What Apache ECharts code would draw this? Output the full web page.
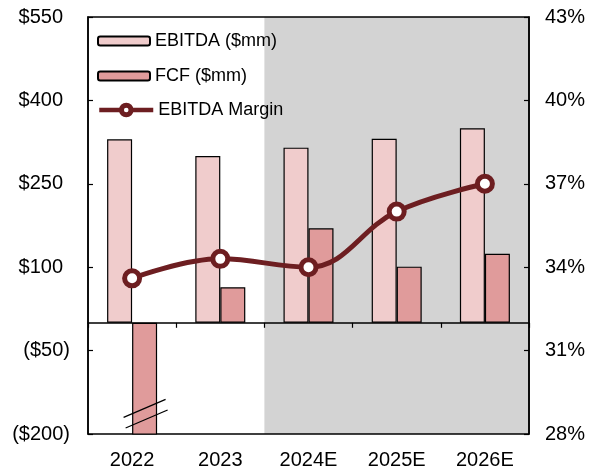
<!DOCTYPE html>
<html>
<head>
<meta charset="utf-8">
<script src="https://cdn.jsdelivr.net/npm/echarts@6/dist/echarts.min.js"></script>
<style>
  html, body { margin: 0; padding: 0; background: #fff; }
  #chart { width: 592px; height: 470px; }
</style>
</head>
<body>
<div id="chart"></div>
<script>
// Fiscal years; the last three are estimates
const categories = ['2022', '2023', '2024E', '2025E', '2026E'];
const ebitda = [330, 300, 315, 331, 350];          // $mm
const fcf = [-240, 64, 170, 101, 124];              // $mm, 2022 runs past the axis floor
const ebitdaMargin = [33.6, 34.3, 34.0, 36.0, 37.0]; // %
const estimateYears = ['2024E', '2025E', '2026E'];   // shaded forecast window
const fcfBreakCategory = '2022';
const fcfBreakLevels = [-154, -173];                  // where the axis-break slashes sit

const leftTicks = { min: -200, max: 550, step: 150 };
const rightTicks = { min: 28, max: 43, step: 3 };

const FONT = '"Liberation Sans", Arial, sans-serif';
const MAROON = '#6d1e21';
const BAR_W = 25;

// accounting style: negatives in parentheses, positives padded to line up
function dollars(v) {
  return v < 0 ? '{n|($' + Math.abs(v) + ')}' : '{p|$' + v + '}';
}

const chart = echarts.init(document.getElementById('chart'), null, { renderer: 'canvas' });

const axisFont = { fontSize: 20, color: '#000', fontFamily: FONT };

const option = {
  animation: false,
  textStyle: { fontFamily: FONT },
  grid: {
    left: 88, right: 63, top: 17, bottom: 36,
    show: true, borderColor: '#000', borderWidth: 1.5,
    backgroundColor: 'transparent'
  },
  legend: [
    {
      orient: 'vertical',
      left: 97, top: 32, padding: 0,
      itemWidth: 52, itemHeight: 9, itemGap: 17,
      textStyle: { fontSize: 18, color: '#000', fontFamily: FONT },
      data: ['EBITDA ($mm)', 'FCF ($mm)']
    },
    {
      left: 97, top: 101, padding: 0,
      itemWidth: 54, itemHeight: 12,
      textStyle: { fontSize: 18, color: '#000', fontFamily: FONT },
      lineStyle: { width: 4.5 },
      itemStyle: { borderWidth: 5 },
      data: ['EBITDA Margin']
    }
  ],
  xAxis: [
    {
      type: 'category', data: categories, z: 5,
      axisLine: { onZero: true, onZeroAxisIndex: 0, lineStyle: { color: '#000', width: 1.5 } },
      axisTick: { show: true, length: 5, lineStyle: { color: '#000', width: 1.2 } },
      axisLabel: { show: false },
      splitLine: { show: false }
    },
    {
      type: 'category', data: categories, position: 'bottom',
      axisLine: { show: false, onZero: false },
      axisTick: { show: false },
      axisLabel: Object.assign({ margin: 16 }, axisFont),
      splitLine: { show: false }
    }
  ],
  yAxis: [
    {
      type: 'value', min: leftTicks.min, max: leftTicks.max, interval: leftTicks.step,
      axisLine: { show: true, lineStyle: { color: '#000', width: 1.5 } },
      axisTick: { show: true, inside: true, length: 5, lineStyle: { color: '#000', width: 1.2 } },
      splitLine: { show: false },
      axisLabel: Object.assign({
        formatter: dollars, margin: 18,
        rich: {
          p: Object.assign({ padding: [0, 7, 0, 0] }, axisFont),
          n: Object.assign({}, axisFont)
        }
      }, axisFont)
    },
    {
      type: 'value', position: 'right',
      min: rightTicks.min, max: rightTicks.max, interval: rightTicks.step,
      axisLine: { show: true, lineStyle: { color: '#000', width: 1.5 } },
      axisTick: { show: true, inside: true, length: 5, lineStyle: { color: '#000', width: 1.2 } },
      splitLine: { show: false },
      axisLabel: Object.assign({ formatter: '{value}%', margin: 16 }, axisFont)
    }
  ],
  series: [
    {
      // gray band behind the estimate years
      type: 'custom', name: 'estimates', z: -1, silent: true,
      xAxisIndex: 0, yAxisIndex: 0,
      data: estimateYears.map(c => [c]),
      encode: { x: 0 },
      renderItem: function (params, api) {
        const idx = api.value(0);
        const top = api.coord([idx, leftTicks.max]);
        const bottom = api.coord([idx, leftTicks.min]);
        const w = api.size([1, 0])[0];
        return {
          type: 'rect',
          shape: { x: top[0] - w / 2, y: top[1], width: w + 0.5, height: bottom[1] - top[1] },
          style: { fill: '#d3d3d3' }
        };
      }
    },
    {
      name: 'EBITDA ($mm)', type: 'bar', data: ebitda,
      xAxisIndex: 0, yAxisIndex: 0,
      barWidth: BAR_W, barGap: '0%', z: 2,
      itemStyle: { color: '#f0cccc', borderColor: '#000', borderWidth: 1.2 }
    },
    {
      name: 'FCF ($mm)', type: 'bar', data: fcf,
      xAxisIndex: 0, yAxisIndex: 0,
      barWidth: BAR_W, barGap: '0%', z: 2, clip: true,
      itemStyle: { color: '#e09b9b', borderColor: '#000', borderWidth: 1.2 }
    },
    {
      // axis-break slashes across the clipped 2022 FCF bar
      type: 'custom', name: 'break', z: 3, silent: true,
      xAxisIndex: 0, yAxisIndex: 0,
      data: fcfBreakLevels.map(v => [fcfBreakCategory, v]),
      encode: { x: 0, y: 1 },
      renderItem: function (params, api) {
        const p = api.coord([api.value(0), api.value(1)]);
        const cx = p[0] + BAR_W / 2 + params.dataIndex * 2;
        return {
          type: 'line',
          shape: { x1: cx - 21, y1: p[1] + 9, x2: cx + 21, y2: p[1] - 9 },
          style: { stroke: '#000', lineWidth: 1.3 }
        };
      }
    },
    {
      name: 'EBITDA Margin', type: 'line', data: ebitdaMargin,
      xAxisIndex: 0, yAxisIndex: 1, z: 4,
      smooth: 0.4,
      symbol: 'circle', symbolSize: 15,
      lineStyle: { color: MAROON, width: 5 },
      itemStyle: { color: '#fff', borderColor: MAROON, borderWidth: 5 }
    }
  ]
};

chart.setOption(option);
</script>
</body>
</html>
